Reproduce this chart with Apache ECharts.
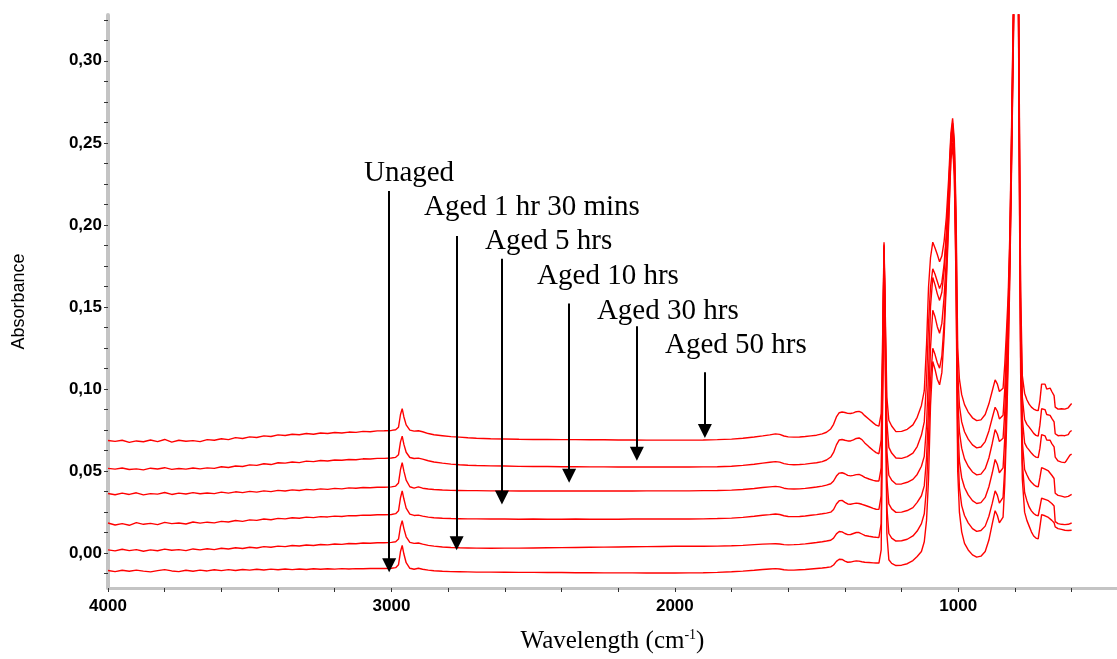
<!DOCTYPE html>
<html>
<head>
<meta charset="utf-8">
<script src="https://cdn.jsdelivr.net/npm/echarts@6/dist/echarts.min.js"></script>
<style>
html,body{margin:0;padding:0;background:#fff;}
#chart{width:1117px;height:659px;}
</style>
</head>
<body>
<div id="chart"></div>
<script>
// Wavenumbers (cm-1), shared by all six spectra
const wavenumbers = [
4000,3975,3950,3925,3900,3875,3850,3825,3800,3775,3750,3725,3700,3675,3650,3625,3600,3575,3550,3525,3500,3475,3450,3425,3400,3375,3350,3325,3300,3275,3250,3225,3200,3175,3150,3125,3100,3075,3050,
3025,3000,2985,2975,2968,2962,2956,2948,2935,2920,2905,2890,2870,2850,2820,2790,2760,2730,2700,
2650,2600,2550,2500,2450,2400,2350,2300,2250,2200,2150,2100,2050,2000,1950,1900,1850,1800,1760,1720,1690,1665,1645,1630,1615,1600,1580,1560,1540,1520,1500,1480,1465,
1450,1440,1430,1420,1410,1400,1390,1380,1370,1360,1350,1340,1330,1315,1300,1290,1280,
1272,1266,1262,1258,1252,1245,1235,1220,1200,1180,1160,1145,1130,1120,1112,1105,1098,1090,1082,1074,1066,1058,1050,1042,1034,1026,1020,1014,1008,1002,996,988,978,965,950,935,
920,905,892,880,870,862,855,848,842,836,830,824,818,812,806,800,794,788,784,780,774,766,758,750,742,734,726,718,712,706,700,694,688,682,676,670,666,662,658,654,648,642,636,630,624,618,612,606,600
];

const unaged = [
-.0105,-.0112,-.0104,-.0110,-.0103,-.0109,-.0114,-.0106,-.0100,-.0108,-.0112,-.0104,-.0110,-.0103,-.0108,-.0101,-.0106,-.0100,-.0105,-.0099,-.0103,-.0098,-.0102,-.0097,-.0101,-.0096,-.0100,-.0096,-.0099,-.0095,-.0098,-.0095,-.0097,-.0094,-.0096,-.0094,-.0095,-.0093,-.0093,
-.0093,-.0092,-.0088,-.0070,.0010,.0047,-.0005,-.0058,-.0092,-.0098,-.0092,-.0098,-.0103,-.0107,-.0110,-.0112,-.0113,-.0114,-.0115,
-.0115,-.0116,-.0117,-.0117,-.0118,-.0118,-.0119,-.0119,-.0120,-.0120,-.0120,-.0121,-.0121,-.0121,-.0120,-.0119,-.0117,-.0113,-.0109,-.0104,-.0099,-.0096,-.0094,-.0096,-.0101,-.0103,-.0103,-.0101,-.0099,-.0096,-.0093,-.0090,-.0087,
-.0083,-.0072,-.0050,-.0037,-.0038,-.0048,-.0055,-.0054,-.0050,-.0047,-.0048,-.0052,-.0055,-.0057,-.0059,-.0060,-.0060,
.0020,.1100,.1840,.1250,.0120,-.0040,-.0062,-.0075,-.0073,-.0064,-.0045,-.0020,.0010,.0070,.0200,.0450,.0900,.1168,.1120,.1060,.1026,.1100,.1320,.1650,.2000,.2400,.2480,.2300,.1650,.0500,.0250,.0130,.0060,.0020,-.0010,-.0024,
-.0018,.0010,.0080,.0180,.0259,.0230,.0185,.0178,.0220,.0420,.0750,.1150,.1700,.2350,.3050,.3750,.3850,.3350,.2100,.1100,.0450,.0250,.0200,.0165,.0130,.0105,.0092,.0087,.0160,.0235,.0238,.0228,.0220,.0218,.0212,.0200,.0198,.0186,.0160,.0158,.0150,.0154,.0145,.0150,.0140,.0146,.0138,.0134,.0140
];

const aged1h30 = [
.0020,.0014,.0024,.0016,.0022,.0012,.0020,.0015,.0025,.0018,.0022,.0016,.0026,.0020,.0027,.0022,.0030,.0026,.0033,.0029,.0036,.0032,.0040,.0036,.0043,.0040,.0047,.0044,.0050,.0047,.0053,.0051,.0056,.0054,.0059,.0058,.0062,.0061,.0064,
.0064,.0066,.0070,.0086,.0162,.0198,.0150,.0100,.0066,.0060,.0062,.0055,.0048,.0043,.0038,.0035,.0033,.0032,.0031,
.0030,.0031,.0031,.0032,.0033,.0034,.0035,.0036,.0037,.0038,.0039,.0040,.0041,.0042,.0042,.0042,.0043,.0045,.0048,.0052,.0055,.0057,.0058,.0056,.0052,.0051,.0052,.0054,.0057,.0061,.0065,.0070,.0074,
.0079,.0092,.0118,.0132,.0130,.0120,.0113,.0114,.0120,.0126,.0126,.0117,.0108,.0103,.0099,.0097,.0096,
.0180,.1150,.1850,.1300,.0280,.0120,.0092,.0074,.0076,.0085,.0105,.0135,.0180,.0240,.0400,.0700,.1050,.1248,.1210,.1160,.1127,.1200,.1400,.1700,.2050,.2420,.2500,.2340,.1720,.0650,.0400,.0290,.0230,.0185,.0150,.0133,
.0138,.0165,.0225,.0305,.0380,.0352,.0305,.0299,.0340,.0520,.0850,.1250,.1750,.2400,.3100,.3800,.3900,.3400,.2200,.1200,.0550,.0370,.0320,.0282,.0258,.0242,.0232,.0228,.0280,.0335,.0338,.0328,.0320,.0320,.0316,.0303,.0300,.0288,.0192,.0188,.0180,.0185,.0176,.0182,.0174,.0180,.0176,.0180,.0184
];

const aged5h = [
.0184,.0172,.0180,.0170,.0186,.0176,.0182,.0174,.0188,.0180,.0184,.0178,.0190,.0183,.0189,.0185,.0194,.0190,.0199,.0194,.0203,.0200,.0208,.0204,.0212,.0209,.0216,.0213,.0220,.0217,.0223,.0221,.0226,.0224,.0229,.0228,.0232,.0231,.0234,
.0234,.0236,.0241,.0258,.0338,.0380,.0330,.0275,.0238,.0230,.0232,.0226,.0220,.0216,.0213,.0211,.0210,.0209,.0209,
.0208,.0208,.0207,.0208,.0207,.0207,.0208,.0207,.0207,.0207,.0208,.0208,.0208,.0208,.0208,.0209,.0211,.0214,.0218,.0225,.0231,.0235,.0239,.0236,.0228,.0224,.0223,.0224,.0227,.0231,.0235,.0240,.0244,
.0250,.0266,.0300,.0320,.0322,.0310,.0300,.0298,.0302,.0305,.0303,.0298,.0292,.0283,.0273,.0268,.0267,
.0350,.1200,.1860,.1350,.0450,.0300,.0270,.0249,.0250,.0260,.0278,.0310,.0350,.0410,.0580,.0880,.1250,.1480,.1440,.1380,.1340,.1400,.1560,.1800,.2130,.2470,.2550,.2400,.1820,.0800,.0560,.0460,.0400,.0355,.0320,.0303,
.0308,.0340,.0405,.0490,.0571,.0540,.0490,.0480,.0520,.0700,.1000,.1350,.1800,.2450,.3150,.3850,.3950,.3450,.2300,.1300,.0680,.0510,.0478,.0450,.0432,.0418,.0408,.0404,.0460,.0522,.0525,.0512,.0500,.0501,.0495,.0475,.0470,.0455,.0365,.0360,.0352,.0358,.0348,.0354,.0342,.0350,.0346,.0352,.0358
];

const aged10h = [
.0364,.0356,.0366,.0358,.0368,.0355,.0363,.0360,.0370,.0358,.0366,.0361,.0369,.0362,.0367,.0363,.0372,.0366,.0374,.0369,.0377,.0372,.0380,.0375,.0383,.0379,.0386,.0382,.0389,.0386,.0392,.0389,.0395,.0392,.0398,.0396,.0400,.0399,.0402,
.0402,.0404,.0409,.0428,.0510,.0552,.0500,.0445,.0405,.0396,.0404,.0396,.0391,.0388,.0385,.0383,.0382,.0381,.0381,
.0380,.0380,.0379,.0380,.0379,.0379,.0380,.0379,.0379,.0379,.0379,.0380,.0380,.0380,.0380,.0381,.0382,.0384,.0388,.0394,.0400,.0404,.0407,.0404,.0396,.0392,.0391,.0392,.0395,.0399,.0403,.0409,.0415,
.0423,.0440,.0470,.0488,.0490,.0484,.0474,.0471,.0474,.0479,.0480,.0473,.0462,.0452,.0444,.0440,.0440,
.0520,.1250,.1870,.1400,.0620,.0475,.0445,.0421,.0422,.0432,.0450,.0480,.0530,.0590,.0780,.1100,.1500,.1680,.1635,.1580,.1540,.1590,.1720,.1920,.2200,.2500,.2580,.2440,.1900,.0950,.0740,.0640,.0575,.0530,.0495,.0477,
.0482,.0515,.0580,.0670,.0753,.0725,.0680,.0672,.0700,.0860,.1150,.1450,.1850,.2500,.3200,.3900,.4000,.3500,.2400,.1400,.0820,.0672,.0645,.0628,.0610,.0595,.0585,.0582,.0640,.0722,.0728,.0715,.0690,.0683,.0688,.0668,.0662,.0648,.0585,.0578,.0562,.0568,.0555,.0560,.0552,.0565,.0575,.0598,.0604
];

const aged30h = [
.0517,.0512,.0519,.0510,.0514,.0508,.0518,.0513,.0521,.0511,.0516,.0512,.0519,.0514,.0520,.0517,.0527,.0522,.0531,.0528,.0538,.0535,.0545,.0540,.0551,.0549,.0556,.0552,.0561,.0558,.0565,.0562,.0568,.0566,.0571,.0569,.0575,.0574,.0578,
.0578,.0580,.0584,.0600,.0678,.0713,.0663,.0615,.0583,.0577,.0579,.0573,.0563,.0556,.0549,.0543,.0539,.0536,.0534,
.0532,.0531,.0529,.0528,.0528,.0527,.0527,.0526,.0526,.0525,.0525,.0525,.0525,.0525,.0525,.0526,.0527,.0530,.0535,.0542,.0549,.0554,.0558,.0555,.0546,.0541,.0539,.0540,.0543,.0547,.0551,.0558,.0568,
.0586,.0614,.0660,.0690,.0693,.0688,.0684,.0684,.0690,.0699,.0702,.0692,.0672,.0648,.0626,.0613,.0606,
.0690,.1300,.1880,.1450,.0800,.0645,.0610,.0580,.0578,.0588,.0610,.0650,.0720,.0800,.1050,.1400,.1620,.1733,.1700,.1655,.1612,.1650,.1760,.1950,.2220,.2530,.2620,.2480,.2000,.1100,.0900,.0800,.0740,.0695,.0660,.0642,
.0647,.0680,.0745,.0825,.0889,.0865,.0818,.0810,.0840,.1000,.1250,.1500,.1900,.2550,.3250,.3950,.4050,.3550,.2500,.1500,.0950,.0815,.0785,.0768,.0750,.0730,.0718,.0713,.0780,.0880,.0888,.0875,.0845,.0835,.0840,.0822,.0815,.0800,.0728,.0722,.0716,.0712,.0718,.0710,.0716,.0712,.0722,.0740,.0748
];

const aged50h = [
.0687,.0681,.0688,.0675,.0684,.0679,.0690,.0680,.0693,.0677,.0688,.0682,.0686,.0680,.0692,.0688,.0697,.0692,.0704,.0699,.0709,.0705,.0715,.0711,.0721,.0717,.0725,.0722,.0729,.0725,.0732,.0729,.0735,.0732,.0738,.0736,.0742,.0740,.0745,
.0746,.0748,.0752,.0768,.0845,.0881,.0830,.0782,.0750,.0744,.0746,.0740,.0729,.0722,.0716,.0710,.0707,.0703,.0700,
.0697,.0696,.0694,.0693,.0693,.0692,.0692,.0691,.0691,.0690,.0690,.0689,.0689,.0689,.0689,.0690,.0692,.0695,.0700,.0708,.0715,.0721,.0727,.0724,.0714,.0709,.0707,.0708,.0711,.0715,.0719,.0727,.0737,
.0757,.0785,.0830,.0856,.0860,.0857,.0852,.0851,.0855,.0862,.0864,.0856,.0838,.0816,.0794,.0780,.0774,
.0850,.1400,.1895,.1500,.0950,.0810,.0775,.0741,.0742,.0755,.0782,.0828,.0900,.0990,.1270,.1620,.1800,.1895,.1860,.1820,.1775,.1810,.1900,.2050,.2280,.2560,.2650,.2520,.2100,.1250,.1060,.0966,.0905,.0860,.0825,.0808,
.0812,.0845,.0910,.0990,.1056,.1030,.0985,.0978,.1005,.1150,.1350,.1570,.1950,.2600,.3300,.4000,.4100,.3600,.2600,.1600,.1080,.0975,.0935,.0908,.0890,.0878,.0871,.0869,.0930,.1030,.1040,.1030,.1000,.0996,.1006,.0985,.0976,.0960,.0890,.0885,.0878,.0875,.0880,.0872,.0878,.0874,.0886,.0900,.0912
];

const seriesNames = ['Unaged', 'Aged 1 hr 30 mins', 'Aged 5 hrs', 'Aged 10 hrs', 'Aged 30 hrs', 'Aged 50 hrs'];
const seriesValues = [unaged, aged1h30, aged5h, aged10h, aged30h, aged50h];

// Axis ticks and labels
const xLabelValues = [4000, 3000, 2000, 1000];
const xTickValues = [4000,3800,3600,3400,3200,3000,2800,2600,2400,2200,2000,1800,1600,1400,1200,1000,800,600];
const yLabelValues = [0, 0.05, 0.10, 0.15, 0.20, 0.25, 0.30];
const yTickValues = [-0.0125,0,0.0125,0.025,0.0375,0.05,0.0625,0.075,0.0875,0.10,0.1125,0.125,0.1375,0.15,0.1625,0.175,0.1875,0.20,0.2125,0.225,0.2375,0.25,0.2625,0.275,0.2875,0.30,0.3125,0.325];

// Annotation arrows (x in cm-1, top and head-centre in absorbance) and label anchors
const arrowX   = [3008, 2770, 2610, 2373, 2134, 1894];
const arrowTop = [0.2206, 0.1933, 0.1794, 0.1521, 0.1382, 0.1103];
const arrowEnd = [-0.0073, 0.0060, 0.0339, 0.0472, 0.0606, 0.0745];
const labelX   = [3097, 2885, 2670, 2486, 2275, 2035];
const labelY   = [0.2315, 0.2109, 0.1897, 0.1685, 0.1473, 0.1267];

seriesValues.forEach((arr, i) => {
  if (arr.length !== wavenumbers.length) console.error('length mismatch', seriesNames[i], arr.length, wavenumbers.length);
});

const tickFont = "'Liberation Sans', Arial, sans-serif";
const serif = "'Liberation Serif', 'Times New Roman', serif";

const series = seriesValues.map((vals, i) => ({
  name: seriesNames[i],
  type: 'line',
  data: wavenumbers.map((w, j) => [w, vals[j]]),
  showSymbol: false,
  symbol: 'none',
  clip: true,
  lineStyle: { color: '#ff0000', width: 1.4 },
  itemStyle: { color: '#ff0000' },
  animation: false,
  silent: true,
  z: 2
}));

series.push({
  name: 'annotations',
  type: 'line',
  data: [],
  silent: true,
  animation: false,
  z: 5,
  markLine: {
    silent: true,
    animation: false,
    symbol: ['none', 'triangle'],
    symbolSize: [14, 14],
    lineStyle: { color: '#000', width: 2, type: 'solid' },
    label: { show: false },
    emphasis: { disabled: true },
    data: arrowX.map((x, i) => [
      { coord: [x, arrowTop[i]] },
      { coord: [x, arrowEnd[i]] }
    ])
  },
  markPoint: {
    silent: true,
    animation: false,
    symbol: 'circle',
    symbolSize: 0,
    itemStyle: { color: 'transparent' },
    label: {
      show: true,
      position: 'right',
      distance: 0,
      formatter: '{b}',
      color: '#000',
      fontFamily: serif,
      fontSize: 29
    },
    data: labelX.map((x, i) => ({ name: seriesNames[i], coord: [x, labelY[i]] }))
  }
});

const chart = echarts.init(document.getElementById('chart'), null, { renderer: 'canvas' });
chart.setOption({
  backgroundColor: '#ffffff',
  animation: false,
  grid: { left: 108, right: 0, top: 15, bottom: 68, containLabel: false },
  xAxis: {
    type: 'value',
    min: 440,
    max: 4000,
    inverse: true,
    name: '{n|Wavelength (cm}{s|-1}{n|)}',
    nameLocation: 'middle',
    nameGap: 40,
    nameTextStyle: {
      rich: {
        n: { fontFamily: serif, fontSize: 25, color: '#000', lineHeight: 27 },
        s: { fontFamily: serif, fontSize: 14, color: '#000', verticalAlign: 'top', lineHeight: 14 }
      }
    },
    axisLine: { show: true, onZero: false, lineStyle: { color: '#c4c4c4', width: 3 } },
    axisTick: { show: true, customValues: xTickValues, length: 4, lineStyle: { color: '#333', width: 1 } },
    axisLabel: {
      customValues: xLabelValues,
      margin: 10,
      color: '#000',
      fontFamily: tickFont,
      fontWeight: 'bold',
      fontSize: 17,
      formatter: v => String(v)
    },
    splitLine: { show: false }
  },
  yAxis: {
    type: 'value',
    min: -0.0212,
    max: 0.3279,
    name: 'Absorbance',
    nameLocation: 'middle',
    nameGap: 80,
    nameTextStyle: { fontFamily: "'Liberation Sans', Arial, sans-serif", fontSize: 18, color: '#000' },
    axisLine: { show: true, onZero: false, lineStyle: { color: '#c4c4c4', width: 4 } },
    axisTick: { show: true, customValues: yTickValues, length: 4, lineStyle: { color: '#333', width: 1 } },
    axisLabel: {
      customValues: yLabelValues,
      margin: 6,
      color: '#000',
      fontFamily: tickFont,
      fontWeight: 'bold',
      fontSize: 17,
      formatter: v => v.toFixed(2).replace('.', ',')
    },
    splitLine: { show: false }
  },
  series: series
});
</script>
</body>
</html>
